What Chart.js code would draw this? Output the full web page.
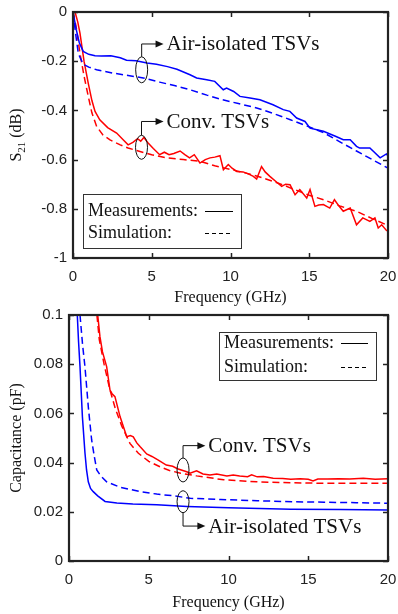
<!DOCTYPE html>
<html>
<head>
<meta charset="utf-8">
<script src="https://cdn.jsdelivr.net/npm/chart.js@4.4.1/dist/chart.umd.min.js"></script>
<style>
  body { margin: 0; background: #fff; }
  canvas { position: absolute; left: 0; }
</style>
</head>
<body>
<canvas id="s21Chart" width="398" height="307" style="top:0"></canvas>
<canvas id="capChart" width="398" height="307" style="top:307px"></canvas>
<script>
// ---- S21 data (top plot) ----
const s21AirMeasF = [0, 0.2, 0.4, 0.65, 1.0, 1.4, 1.8, 2.4, 3.0, 3.4, 4.0, 4.7, 5.3, 6.0, 6.6, 7.43, 7.85, 8.49, 9.0, 9.54, 9.75, 10.2, 10.6, 11.24, 11.87, 12.7, 13.35, 13.77, 14.2, 14.73, 15.05, 15.9, 16.7, 17.16, 17.6, 18.0, 18.2, 18.85, 19.5, 19.9, 20];
const s21AirMeas = [0, -0.07, -0.125, -0.16, -0.172, -0.178, -0.179, -0.178, -0.186, -0.196, -0.198, -0.207, -0.212, -0.222, -0.233, -0.255, -0.268, -0.275, -0.282, -0.316, -0.309, -0.323, -0.343, -0.35, -0.357, -0.377, -0.397, -0.404, -0.431, -0.445, -0.472, -0.485, -0.506, -0.519, -0.519, -0.546, -0.553, -0.553, -0.593, -0.577, -0.585];

const s21AirSimF = [0, 0.15, 0.34, 0.65, 1.0, 1.5, 2.5, 3.5, 4.46, 5.5, 6.5, 7.43, 8.5, 9.5, 10.5, 11.66, 12.7, 13.8, 14.8, 15.9, 17.0, 18.0, 19.0, 20];
const s21AirSim = [0, -0.08, -0.17, -0.212, -0.224, -0.235, -0.248, -0.258, -0.268, -0.285, -0.3, -0.316, -0.338, -0.357, -0.372, -0.39, -0.412, -0.438, -0.462, -0.49, -0.53, -0.565, -0.6, -0.635];

const s21ConvMeasF = [0.13, 0.3, 0.44, 0.7, 0.97, 1.2, 1.4, 1.7, 2.2, 2.77, 3.2, 3.5, 3.8, 4.1, 4.3, 4.5, 4.8, 5.1, 5.5, 5.8, 6.1, 6.4, 6.8, 7.1, 7.4, 7.7, 8.06, 8.4, 8.7, 9.0, 9.33, 9.55, 9.86, 10.1, 10.4, 10.8, 11.2, 11.45, 11.66, 11.97, 12.2, 12.5, 12.9, 13.25, 13.5, 13.78, 14.1, 14.4, 14.84, 15.05, 15.36, 15.6, 15.9, 16.3, 16.6, 16.9, 17.16, 17.6, 18.0, 18.4, 18.85, 19.17, 19.38, 19.6, 19.9, 20];
const s21ConvMeas = [0, -0.04, -0.085, -0.2, -0.29, -0.36, -0.404, -0.438, -0.47, -0.492, -0.52, -0.54, -0.53, -0.515, -0.525, -0.51, -0.535, -0.555, -0.58, -0.57, -0.58, -0.575, -0.565, -0.58, -0.593, -0.58, -0.614, -0.6, -0.593, -0.59, -0.584, -0.641, -0.62, -0.635, -0.648, -0.65, -0.66, -0.668, -0.679, -0.628, -0.65, -0.668, -0.69, -0.709, -0.7, -0.702, -0.743, -0.722, -0.756, -0.722, -0.79, -0.785, -0.783, -0.797, -0.763, -0.79, -0.81, -0.797, -0.865, -0.837, -0.851, -0.837, -0.878, -0.865, -0.888, -0.89];

const s21ConvSimF = [0, 0.2, 0.44, 0.7, 0.97, 1.2, 1.5, 1.9, 2.35, 3.0, 3.5, 4.25, 5.0, 5.95, 7.0, 8.06, 9.0, 10.0, 11.0, 12.0, 13.0, 14.0, 15.0, 16.0, 17.0, 18.0, 19.0, 20];
const s21ConvSim = [0, -0.06, -0.167, -0.26, -0.343, -0.41, -0.465, -0.5, -0.52, -0.54, -0.553, -0.567, -0.58, -0.593, -0.6, -0.607, -0.625, -0.64, -0.655, -0.673, -0.695, -0.72, -0.745, -0.765, -0.79, -0.81, -0.84, -0.868];

// ---- Capacitance data (bottom plot) ----
const capAirMeasF = [0.52, 0.6, 0.69, 0.84, 1.0, 1.1, 1.21, 1.35, 1.52, 1.8, 2.26, 3.0, 4.0, 5.5, 7.4, 10, 13.9, 17, 20];
const capAirMeas = [0.1, 0.089, 0.079, 0.0587, 0.044, 0.037, 0.0322, 0.0295, 0.0282, 0.0265, 0.0242, 0.0236, 0.0232, 0.0229, 0.0222, 0.0216, 0.021, 0.0209, 0.0207];

const capAirSimF = [0.69, 0.85, 1.0, 1.21, 1.42, 1.6, 1.74, 2.0, 2.36, 3.2, 4.45, 5.5, 6.54, 7.6, 9.5, 11.8, 14, 16, 18, 20];
const capAirSim = [0.1, 0.088, 0.079, 0.0627, 0.0492, 0.042, 0.037, 0.0345, 0.0322, 0.03, 0.0282, 0.0272, 0.0265, 0.0255, 0.025, 0.0245, 0.0241, 0.0239, 0.0237, 0.0235];

const capConvMeasF = [1.8, 1.94, 2.1, 2.36, 2.57, 2.7, 2.88, 3.2, 3.62, 3.85, 4.03, 4.25, 4.45, 4.87, 5.2, 5.6, 6.1, 6.5, 6.8, 7.38, 7.59, 8.0, 8.4, 8.84, 9.26, 9.9, 10.3, 10.7, 11.2, 11.45, 11.8, 12.2, 12.8, 13.4, 13.9, 14.5, 15.0, 15.3, 15.6, 16.2, 16.9, 17.6, 18.45, 19.2, 20];
const capConvMeas = [0.1, 0.0912, 0.085, 0.079, 0.0695, 0.068, 0.0668, 0.0587, 0.0505, 0.051, 0.0505, 0.048, 0.0465, 0.0435, 0.0425, 0.041, 0.039, 0.0385, 0.0375, 0.0363, 0.0357, 0.0367, 0.0354, 0.035, 0.0354, 0.0346, 0.035, 0.0346, 0.0343, 0.035, 0.0342, 0.0343, 0.0336, 0.0335, 0.0332, 0.0334, 0.0332, 0.0325, 0.0333, 0.0333, 0.0334, 0.0333, 0.0336, 0.0332, 0.0334];

const capConvSimF = [1.75, 1.9, 2.2, 2.55, 2.9, 3.3, 3.82, 4.35, 5.0, 5.7, 6.3, 7.0, 8.0, 9.7, 11.77, 13.9, 15.9, 18, 20];
const capConvSim = [0.1, 0.09, 0.08, 0.07, 0.062, 0.055, 0.0478, 0.0438, 0.0405, 0.0383, 0.0368, 0.0357, 0.0346, 0.033, 0.0322, 0.0318, 0.0316, 0.0316, 0.0316];

const BLUE = "#0000ff";
const RED = "#ff0000";
const SERIF = "'Liberation Serif', 'Times New Roman', serif";
const SANS = "'Liberation Sans', Arial, sans-serif";

function toPoints(xs, ys) {
  return xs.map((f, i) => ({ x: f, y: ys[i] }));
}

function series(xs, ys, color, dashed) {
  return {
    data: toPoints(xs, ys),
    borderColor: color,
    borderWidth: 1.5,
    borderDash: dashed ? [7, 4] : [],
    pointRadius: 0,
    fill: false,
    tension: 0,
  };
}

// draws the box, inward ticks, legend box, y title and annotations
const framePlugin = {
  id: "frame",
  afterDraw(chart, args, opts) {
    const { ctx, chartArea: a, scales } = chart;
    const sx = scales.x, sy = scales.y;
    ctx.save();

    function seg(x1, y1, x2, y2) {
      ctx.beginPath();
      ctx.moveTo(x1, y1);
      ctx.lineTo(x2, y2);
      ctx.stroke();
    }

    ctx.strokeStyle = "#222";
    ctx.lineWidth = 1.5;
    sx.ticks.forEach(t => {
      const px = Math.round(sx.getPixelForValue(t.value)) + 0.5;
      seg(px, a.bottom, px, a.bottom - 5);
      seg(px, a.top, px, a.top + 5);
    });
    sy.ticks.forEach(t => {
      const py = Math.round(sy.getPixelForValue(t.value)) + 0.5;
      seg(a.left, py, a.left + 5, py);
      seg(a.right, py, a.right - 5, py);
    });
    ctx.lineWidth = 2.2;
    ctx.strokeRect(a.left, a.top, a.right - a.left, a.bottom - a.top);

    // x title
    ctx.fillStyle = "#111";
    ctx.font = "16px " + SERIF;
    ctx.textAlign = "center";
    ctx.textBaseline = "middle";
    ctx.fillText("Frequency (GHz)", (a.left + a.right) / 2, a.bottom + opts.xTitleGap);

    // y title, optional subscript
    ctx.save();
    ctx.translate(16, (a.top + a.bottom) / 2);
    ctx.rotate(-Math.PI / 2);
    ctx.textAlign = "left";
    ctx.textBaseline = "alphabetic";
    const mainFont = "16px " + SERIF, subFont = "11px " + SERIF;
    ctx.font = mainFont;
    const w1 = ctx.measureText(opts.yTitle[0]).width;
    const w3 = ctx.measureText(opts.yTitle[2]).width;
    ctx.font = subFont;
    const w2 = ctx.measureText(opts.yTitle[1]).width;
    let cx = -(w1 + w2 + w3) / 2;
    ctx.font = mainFont;
    ctx.fillText(opts.yTitle[0], cx, 5);
    cx += w1;
    ctx.font = subFont;
    ctx.fillText(opts.yTitle[1], cx, 9);
    cx += w2;
    ctx.font = mainFont;
    ctx.fillText(opts.yTitle[2], cx, 5);
    ctx.restore();

    // legend box
    const L = opts.legend;
    ctx.fillStyle = "#fff";
    ctx.fillRect(L.x, L.y, L.w, L.h);
    ctx.strokeStyle = "#333";
    ctx.lineWidth = 1;
    ctx.strokeRect(L.x + 0.5, L.y + 0.5, L.w, L.h);
    ctx.fillStyle = "#111";
    ctx.font = "18px " + SERIF;
    ctx.textAlign = "left";
    ctx.textBaseline = "middle";
    ctx.fillText("Measurements:", L.x + 5, L.row1);
    ctx.fillText("Simulation:", L.x + 5, L.row2);
    ctx.strokeStyle = "#000";
    seg(L.lx1, L.row1 + 0.5, L.lx2, L.row1 + 0.5);
    ctx.setLineDash([4, 3]);
    seg(L.lx1, L.row2 + 0.5, L.lx2, L.row2 + 0.5);
    ctx.setLineDash([]);

    // annotations: ellipse, elbow arrow, label
    ctx.strokeStyle = "#111";
    ctx.fillStyle = "#111";
    ctx.lineWidth = 1;
    opts.notes.forEach(n => {
      const ex = sx.getPixelForValue(n.f), ey = sy.getPixelForValue(n.v);
      ctx.beginPath();
      ctx.ellipse(ex, ey, 6, n.ry, 0, 0, Math.PI * 2);
      ctx.stroke();
      const ly = sy.getPixelForValue(n.level);
      const endX = sx.getPixelForValue(n.end);
      const startY = n.up ? ey - n.ry : ey + n.ry;
      ctx.beginPath();
      ctx.moveTo(ex, startY);
      ctx.lineTo(ex, ly);
      ctx.lineTo(endX - 6, ly);
      ctx.stroke();
      ctx.beginPath();
      ctx.moveTo(endX, ly);
      ctx.lineTo(endX - 8, ly - 3.5);
      ctx.lineTo(endX - 8, ly + 3.5);
      ctx.closePath();
      ctx.fill();
      ctx.font = "21px " + SERIF;
      ctx.textBaseline = "middle";
      ctx.fillText(n.text, endX + 3, ly + 1);
    });
    ctx.restore();
  },
};

function makeChart(id, datasets, yMin, yMax, yStep, layout, frameOpts) {
  const ctx = document.getElementById(id).getContext("2d");
  return new Chart(ctx, {
    type: "line",
    data: { datasets: datasets },
    options: {
      responsive: false,
      animation: false,
      devicePixelRatio: 1,
      layout: { padding: { top: layout.top, right: layout.right, left: 0, bottom: 0 } },
      plugins: { legend: { display: false }, tooltip: { enabled: false }, frame: frameOpts },
      scales: {
        x: {
          type: "linear",
          min: 0,
          max: 20,
          grid: { display: false, drawTicks: false },
          border: { display: false },
          ticks: { stepSize: 5, padding: layout.xPad, color: "#222", font: { family: SANS, size: 15 } },
          afterFit: s => { s.height = layout.xHeight; s.paddingLeft = 0; s.paddingRight = 0; },
        },
        y: {
          min: yMin,
          max: yMax,
          grid: { display: false, drawTicks: false },
          border: { display: false },
          ticks: {
            stepSize: yStep,
            padding: 6,
            color: "#222",
            font: { family: SANS, size: 15 },
            callback: v => String(+v.toFixed(2)),
          },
          afterFit: s => { s.width = layout.yWidth; s.paddingTop = 0; s.paddingBottom = 0; },
        },
      },
    },
    plugins: [framePlugin],
  });
}

makeChart("s21Chart", [
  series(s21AirMeasF, s21AirMeas, BLUE, false),
  series(s21AirSimF, s21AirSim, BLUE, true),
  series(s21ConvMeasF, s21ConvMeas, RED, false),
  series(s21ConvSimF, s21ConvSim, RED, true),
], -1, 0, 0.2,
  { top: 12, right: 10, yWidth: 73, xHeight: 49, xPad: 10 },
  {
    xTitleGap: 40,
    yTitle: ["S", "21", " (dB)"],
    legend: { x: 83, y: 194, w: 158, h: 54, row1: 211, row2: 233, lx1: 205, lx2: 233 },
    notes: [
      { f: 4.36, v: -0.235, ry: 13, up: true, level: -0.13, end: 5.75, text: "Air-isolated TSVs" },
      { f: 4.35, v: -0.55, ry: 12, up: true, level: -0.445, end: 5.75, text: "Conv. TSVs" },
    ],
  });

makeChart("capChart", [
  series(capAirMeasF, capAirMeas, BLUE, false),
  series(capAirSimF, capAirSim, BLUE, true),
  series(capConvMeasF, capConvMeas, RED, false),
  series(capConvSimF, capConvSim, RED, true),
], 0, 0.1, 0.02,
  { top: 8, right: 10, yWidth: 69, xHeight: 53, xPad: 10 },
  {
    xTitleGap: 42,
    yTitle: ["Capacitance (pF)", "", ""],
    legend: { x: 219, y: 25, w: 157, h: 48, row1: 36, row2: 60, lx1: 341, lx2: 368 },
    notes: [
      { f: 7.15, v: 0.037, ry: 12, up: true, level: 0.0469, end: 8.55, text: "Conv. TSVs" },
      { f: 7.15, v: 0.0241, ry: 11, up: false, level: 0.0142, end: 8.55, text: "Air-isolated TSVs" },
    ],
  });
</script>
</body>
</html>
